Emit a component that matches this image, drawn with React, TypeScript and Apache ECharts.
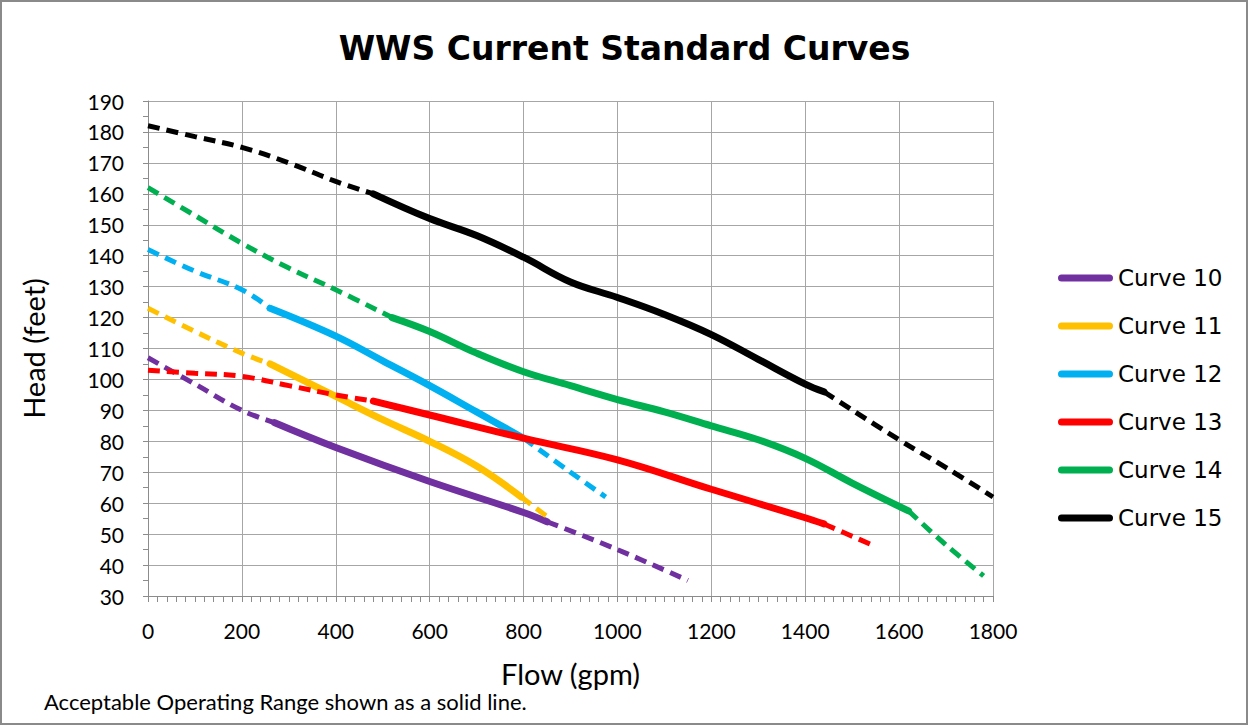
import React, { useEffect, useRef } from "react";
import * as echarts from "echarts";

// Flow (gpm) / Head (feet) pairs
const curve10Low = [[0, 107], [100, 98.5], [200, 90], [270, 86]];
const curve10Solid = [[270, 86], [400, 78], [600, 67], [800, 57], [850, 54]];
const curve10High = [[850, 54], [1000, 45], [1150, 35]];

const curve11Low = [[0, 123], [100, 115.5], [200, 108.5], [260, 105]];
const curve11Solid = [[260, 105], [400, 94.5], [500, 87], [600, 80], [700, 72], [795, 62]];
const curve11High = [[795, 62], [860, 54.5]];

const curve12Low = [[0, 142], [100, 135], [200, 129], [260, 123]];
const curve12Solid = [[260, 123], [400, 114], [500, 106], [600, 98], [700, 89.5], [800, 81]];
const curve12High = [[800, 81], [900, 70], [975, 62]];

const curve13Low = [[0, 103], [100, 102], [200, 101], [300, 98], [400, 95], [480, 93]];
const curve13Solid = [[480, 93], [600, 88.5], [800, 81], [1000, 74], [1200, 64.5], [1400, 55.3], [1440, 53.3]];
const curve13High = [[1440, 53.3], [1550, 46]];

const curve14Low = [[0, 162], [100, 153], [200, 144], [300, 136], [400, 129], [520, 120]];
const curve14Solid = [[520, 120], [600, 115.5], [700, 108.5], [800, 102.5], [900, 98], [1000, 93.5], [1100, 89.5], [1200, 85], [1300, 80.5], [1400, 74.5], [1500, 66.5], [1620, 57.5]];
const curve14High = [[1620, 57.5], [1700, 46.5], [1780, 36.5]];

const curve15Low = [[0, 182], [100, 178.5], [200, 175], [300, 170], [400, 164], [480, 160]];
const curve15Solid = [[480, 160], [600, 152], [700, 146.5], [800, 139.5], [900, 131.5], [1000, 126.5], [1100, 121], [1200, 114.5], [1300, 106.5], [1400, 98.5], [1440, 96]];
const curve15High = [[1440, 96], [1600, 80.5], [1700, 71.5], [1800, 62]];

const curveNames = ["Curve 10", "Curve 11", "Curve 12", "Curve 13", "Curve 14", "Curve 15"];
const curveColors = ["#7030A0", "#FFC000", "#00B0F0", "#FF0000", "#00B050", "#000000"];
const curveParts = [
  [curve10Low, curve10Solid, curve10High],
  [curve11Low, curve11Solid, curve11High],
  [curve12Low, curve12Solid, curve12High],
  [curve13Low, curve13Solid, curve13High],
  [curve14Low, curve14Solid, curve14High],
  [curve15Low, curve15Solid, curve15High],
];

const xTickMin = 0;
const xTickMax = 1800;
const xTickStep = 200;
const yTickMin = 30;
const yTickMax = 190;
const yTickStep = 10;

const legendIconPath = "path://M3.5,0 L51.5,0 A3.5,3.5 0 0 1 51.5,7 L3.5,7 A3.5,3.5 0 0 1 3.5,0 Z";

export default function App() {
  const ref = useRef<HTMLDivElement>(null);
  useEffect(() => {
    if (!ref.current) return;
    const chart = echarts.init(ref.current, null, { renderer: "svg" });
    const series: any[] = [];
    curveParts.forEach((parts, i) => {
      const color = curveColors[i];
      const [low, solid, high] = parts;
      series.push({
        name: curveNames[i] + " (extended low)",
        type: "line",
        data: low,
        smooth: 0.4,
        symbol: "none",
        lineStyle: { color, width: 5, type: [12, 7], cap: "butt" },
        z: 2 + i,
      });
      series.push({
        name: curveNames[i],
        type: "line",
        data: solid,
        smooth: 0.4,
        symbol: "none",
        itemStyle: { color },
        lineStyle: { color, width: 7, type: "solid", cap: "round" },
        z: 2 + i,
      });
      series.push({
        name: curveNames[i] + " (extended high)",
        type: "line",
        data: high,
        smooth: 0.4,
        symbol: "none",
        lineStyle: { color, width: 5, type: [12, 7], cap: "butt" },
        z: 2 + i,
      });
    });

    const option: any = {
      animation: false,
      backgroundColor: "#ffffff",
      title: {
        text: "WWS Current Standard Curves",
        left: "center",
        top: 27,
        textStyle: { fontFamily: "DejaVu Sans", fontWeight: "bold", fontSize: 33, color: "#000" },
      },
      grid: { left: 148, right: 256, top: 101, bottom: 130, containLabel: false },
      legend: {
        orient: "vertical",
        left: 1058,
        top: 266,
        padding: 0,
        itemWidth: 55,
        itemHeight: 7,
        itemGap: 24,
        data: curveNames.map((n) => ({ name: n, icon: legendIconPath })),
        selectedMode: false,
        textStyle: { fontFamily: "DejaVu Sans", fontSize: 23, color: "#000", lineHeight: 24, padding: [0, 0, 0, 0] },
      },
      xAxis: {
        type: "value",
        min: xTickMin,
        max: xTickMax,
        interval: xTickStep,
        name: "Flow (gpm)",
        nameLocation: "middle",
        nameGap: 63,
        nameTextStyle: { fontFamily: "Lato", fontSize: 29, color: "#000" },
        axisLine: { show: true, lineStyle: { color: "#8c8c8c", width: 1 } },
        axisTick: { show: true, length: 6, lineStyle: { color: "#8c8c8c" } },
        minorTick: { show: true, splitNumber: 10, length: 6, lineStyle: { color: "#8c8c8c" } },
        axisLabel: { margin: 24, fontFamily: "Lato", fontSize: 21, color: "#000", formatter: (v: number) => String(v) },
        splitLine: { show: true, lineStyle: { color: "#a6a6a6", width: 1 } },
      },
      yAxis: {
        type: "value",
        min: yTickMin,
        max: yTickMax,
        interval: yTickStep,
        name: "Head (feet)",
        nameLocation: "middle",
        nameGap: 100,
        nameTextStyle: { fontFamily: "Lato", fontSize: 29, color: "#000" },
        axisLine: { show: true, lineStyle: { color: "#8c8c8c", width: 1 } },
        axisTick: { show: true, length: 5, lineStyle: { color: "#8c8c8c" } },
        minorTick: { show: true, splitNumber: 2, length: 5, lineStyle: { color: "#8c8c8c" } },
        axisLabel: { margin: 24, fontFamily: "Lato", fontSize: 21, color: "#000", formatter: (v: number) => String(v) },
        splitLine: { show: true, lineStyle: { color: "#a6a6a6", width: 1 } },
      },
      graphic: [
        {
          type: "rect",
          shape: { x: 1, y: 1, width: 1246, height: 723 },
          style: { fill: "none", stroke: "#8a8a8a", lineWidth: 2 },
          silent: true,
        },
        {
          type: "text",
          left: 44,
          top: 690,
          style: {
            text: "Acceptable Operating Range shown as a solid line.",
            fontFamily: "Lato",
            fontSize: 22,
            fill: "#000",
          },
        },
      ],
      series,
    };
    chart.setOption(option);
    return () => chart.dispose();
  }, []);
  return <div ref={ref} style={{ position: "absolute", left: 0, top: 0, width: 1249, height: 726 }} />;
}
